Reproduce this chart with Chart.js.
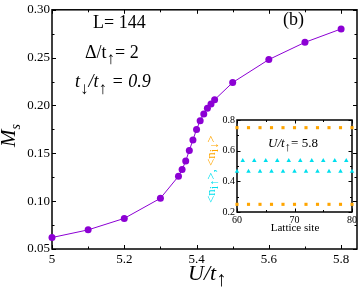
<!DOCTYPE html>
<html>
<head>
<meta charset="utf-8">
<script src="https://cdn.jsdelivr.net/npm/chart.js@4.4.1/dist/chart.umd.min.js"></script>
<style>
html, body { margin: 0; padding: 0; background: #fff; }
#wrap { position: relative; width: 361px; height: 288px; }
#main { position: absolute; left: 0; top: 0; width: 361px; height: 288px; }
#inset { position: absolute; left: 200px; top: 108px; width: 161px; height: 130px; }
</style>
</head>
<body>
<div id="wrap">
<canvas id="main" width="361" height="288"></canvas>
<canvas id="inset" width="161" height="130"></canvas>
</div>
<script>
'use strict';

// main panel: staggered magnetization vs U/t_up
const uValues = [5.0, 5.1, 5.2, 5.3, 5.35, 5.36, 5.37, 5.38, 5.39, 5.40, 5.41, 5.42, 5.43, 5.44, 5.45, 5.5, 5.6, 5.7, 5.8];
const msValues = [0.062, 0.070, 0.082, 0.103, 0.126, 0.133, 0.142, 0.153, 0.164, 0.175, 0.184, 0.191, 0.197, 0.2015, 0.206, 0.224, 0.248, 0.266, 0.280];
const xTicks = [5, 5.2, 5.4, 5.6, 5.8];
const xTickLabels = ['5', '5.2', '5.4', '5.6', '5.8'];
const xMinor = [5.1, 5.3, 5.5, 5.7];
const yTicks = [0.05, 0.10, 0.15, 0.20, 0.25, 0.30];
const yTickLabels = ['0.05', '0.10', '0.15', '0.20', '0.25', '0.30'];
const yMinor = [0.075, 0.125, 0.175, 0.225, 0.275];

// inset: site densities at U/t_up = 5.8
const sitesEven = [60, 62, 64, 66, 68, 70, 72, 74, 76, 78, 80];
const sitesOdd = [61, 63, 65, 67, 69, 71, 73, 75, 77, 79];
const nDownHigh = [0.75, 0.75, 0.75, 0.75, 0.75, 0.75, 0.75, 0.75, 0.75, 0.75, 0.75];
const nDownLow = [0.25, 0.25, 0.25, 0.25, 0.25, 0.25, 0.25, 0.25, 0.25, 0.25, 0.25];
const nUpHigh = [0.535, 0.535, 0.535, 0.535, 0.535, 0.535, 0.535, 0.535, 0.535, 0.535];
const nUpLow = [0.465, 0.465, 0.465, 0.465, 0.465, 0.465, 0.465, 0.465, 0.465, 0.465, 0.465];
const insetXTicks = [60, 70, 80];
const insetXMinor = [65, 75];
const insetYTicks = [0.2, 0.4, 0.6, 0.8];
const insetYTickLabels = ['0.2', '0.4', '0.6', '0.8'];
const insetYMinor = [0.3, 0.5, 0.7];

const SERIF = '"Liberation Serif", "DejaVu Serif", serif';
const purple = '#8c00d4';
const orange = '#ffa500';
const cyan = '#00dfee';

Chart.defaults.font.family = SERIF;
Chart.defaults.color = '#000';

function pts(xs, ys) {
    return xs.map((x, i) => ({ x: x, y: ys[i] }));
}

function drawParts(ctx, x, y, parts) { // draws text pieces side by side, [text, font, dy, color]
    parts.forEach(p => {
        ctx.font = p[1];
        ctx.fillStyle = p[3] || '#000';
        ctx.fillText(p[0], x, y + (p[2] || 0));
        x += ctx.measureText(p[0]).width;
    });
}

function frameAndTicks(chart, t) { // box around plot plus inward ticks on all four sides
    const ctx = chart.ctx, a = chart.chartArea;
    const xs = chart.scales.x, ys = chart.scales.y;
    ctx.save();
    ctx.strokeStyle = '#000';
    ctx.lineWidth = 1;
    ctx.beginPath();
    const tickX = (v, len) => {
        const p = Math.round(xs.getPixelForValue(v)) + 0.5;
        ctx.moveTo(p, a.bottom); ctx.lineTo(p, a.bottom - len);
        ctx.moveTo(p, a.top); ctx.lineTo(p, a.top + len);
    };
    const tickY = (v, len) => {
        const p = Math.round(ys.getPixelForValue(v)) + 0.5;
        ctx.moveTo(a.left, p); ctx.lineTo(a.left + len, p);
        ctx.moveTo(a.right, p); ctx.lineTo(a.right - len, p);
    };
    t.xMajor.forEach(v => tickX(v, t.major));
    t.xMinor.forEach(v => tickX(v, t.minor));
    t.yMajor.forEach(v => tickY(v, t.major));
    t.yMinor.forEach(v => tickY(v, t.minor));
    ctx.stroke();
    ctx.lineWidth = 1.5;
    ctx.strokeRect(a.left, a.top, a.right - a.left, a.bottom - a.top);
    ctx.restore();
}

const mainDecor = {
    id: 'mainDecor',
    beforeDatasetsDraw(chart) {
        frameAndTicks(chart, { xMajor: xTicks, xMinor: xMinor, yMajor: yTicks, yMinor: yMinor, major: 4, minor: 2.5 });
    },
    afterDraw(chart) {
        const ctx = chart.ctx;
        const F = '18px ' + SERIF, I = 'italic 18px ' + SERIF, A = '17px ' + SERIF;
        ctx.save();
        ctx.textBaseline = 'alphabetic';
        ctx.textAlign = 'left';
        drawParts(ctx, 93, 28, [['L= 144', F]]);
        drawParts(ctx, 85, 58, [['\u0394/t', F], ['\u2191', A, 6], ['= 2', F]]);
        drawParts(ctx, 75, 87, [['t', I], ['\u2193', A, 7], ['/t', I], ['\u2191', A, 7], [' = 0.9', I]]);
        drawParts(ctx, 283, 25, [['(b)', F]]);
        drawParts(ctx, 188, 280, [['U/t', 'italic 22px ' + SERIF], ['\u2191', '21px ' + SERIF, 6]]);
        ctx.translate(15, 147);
        ctx.rotate(-Math.PI / 2);
        drawParts(ctx, 0, 0, [['M', 'italic 21px ' + SERIF], ['s', 'italic 14px ' + SERIF, 5]]);
        ctx.restore();
    }
};

new Chart(document.getElementById('main'), {
    type: 'scatter',
    data: {
        datasets: [{
            data: pts(uValues, msValues),
            showLine: true,
            borderColor: purple,
            borderWidth: 1,
            backgroundColor: purple,
            pointRadius: 3.5,
            pointBorderWidth: 0,
            clip: false,
        }],
    },
    options: {
        responsive: false,
        animation: false,
        layout: { padding: { top: 5, right: 1, left: 0, bottom: 0 } },
        plugins: { legend: { display: false }, tooltip: { enabled: false } },
        scales: {
            x: {
                type: 'linear', min: 5, max: 5.844,
                grid: { display: false, drawTicks: false }, border: { display: false },
                afterBuildTicks: s => { s.ticks = xTicks.map(v => ({ value: v })); },
                afterFit: s => { s.height = 39; },
                ticks: { padding: 3, autoSkip: false, maxRotation: 0, font: { size: 13 }, callback: (v, i) => xTickLabels[i] },
            },
            y: {
                type: 'linear', min: 0.05, max: 0.30,
                grid: { display: false, drawTicks: false }, border: { display: false },
                afterBuildTicks: s => { s.ticks = yTicks.map(v => ({ value: v })); },
                afterFit: s => { s.width = 52; },
                ticks: { padding: 2, autoSkip: false, font: { size: 13 }, callback: (v, i) => yTickLabels[i] },
            },
        },
    },
    plugins: [mainDecor],
});

const insetDecor = {
    id: 'insetDecor',
    beforeDraw(chart) {
        const a = chart.chartArea;
        chart.ctx.save();
        chart.ctx.fillStyle = '#fff';
        chart.ctx.fillRect(a.left, a.top, a.right - a.left, a.bottom - a.top);
        chart.ctx.restore();
    },
    beforeDatasetsDraw(chart) {
        frameAndTicks(chart, { xMajor: insetXTicks, xMinor: insetXMinor, yMajor: insetYTicks, yMinor: insetYMinor, major: 3.5, minor: 2 });
    },
    afterDraw(chart) {
        const ctx = chart.ctx;
        const T = '13px ' + SERIF, IT = 'italic 13px ' + SERIF;
        ctx.save();
        ctx.textBaseline = 'alphabetic';
        drawParts(ctx, 68, 39, [['U/t', IT], ['\u2191', '13px ' + SERIF, 4], ['= 5.8', T]]);
        ctx.font = '11px ' + SERIF;
        ctx.textAlign = 'center';
        ctx.fillStyle = '#000';
        ctx.fillText('Lattice site', 95, 123);
        ctx.textAlign = 'left';
        ctx.translate(15, 95);
        ctx.rotate(-Math.PI / 2);
        const L = '13px ' + SERIF, s = '12px ' + SERIF;
        drawParts(ctx, 0, 0, [['<n', L, 0, cyan], ['i\u2191', s, 3, cyan], ['>, ', L, 0, cyan],
            ['<n', L, 0, orange], ['i\u2193', s, 3, orange], ['>', L, 0, orange]]);
        ctx.restore();
    }
};

new Chart(document.getElementById('inset'), {
    type: 'scatter',
    data: {
        datasets: [
            { data: pts(sitesEven, nDownHigh), pointStyle: 'rect', pointRadius: 2.2, backgroundColor: orange, borderWidth: 0, clip: false },
            { data: pts(sitesEven, nDownLow), pointStyle: 'rect', pointRadius: 2.2, backgroundColor: orange, borderWidth: 0, clip: false },
            { data: pts(sitesOdd, nUpHigh), pointStyle: 'triangle', pointRadius: 2.6, backgroundColor: cyan, borderWidth: 0, clip: false },
            { data: pts(sitesEven, nUpLow), pointStyle: 'triangle', pointRadius: 2.6, backgroundColor: cyan, borderWidth: 0, clip: false },
        ],
    },
    options: {
        responsive: false,
        animation: false,
        layout: { padding: { top: 12, right: 9, left: 0, bottom: 0 } },
        plugins: { legend: { display: false }, tooltip: { enabled: false } },
        scales: {
            x: {
                type: 'linear', min: 60, max: 80,
                grid: { display: false, drawTicks: false }, border: { display: false },
                afterBuildTicks: s => { s.ticks = insetXTicks.map(v => ({ value: v })); },
                afterFit: s => { s.height = 26; },
                ticks: { padding: 2, autoSkip: false, maxRotation: 0, font: { size: 10 } },
            },
            y: {
                type: 'linear', min: 0.2, max: 0.8,
                grid: { display: false, drawTicks: false }, border: { display: false },
                afterBuildTicks: s => { s.ticks = insetYTicks.map(v => ({ value: v })); },
                afterFit: s => { s.width = 37; },
                ticks: { padding: 2, autoSkip: false, font: { size: 10 }, callback: (v, i) => insetYTickLabels[i] },
            },
        },
    },
    plugins: [insetDecor],
});
</script>
</body>
</html>
